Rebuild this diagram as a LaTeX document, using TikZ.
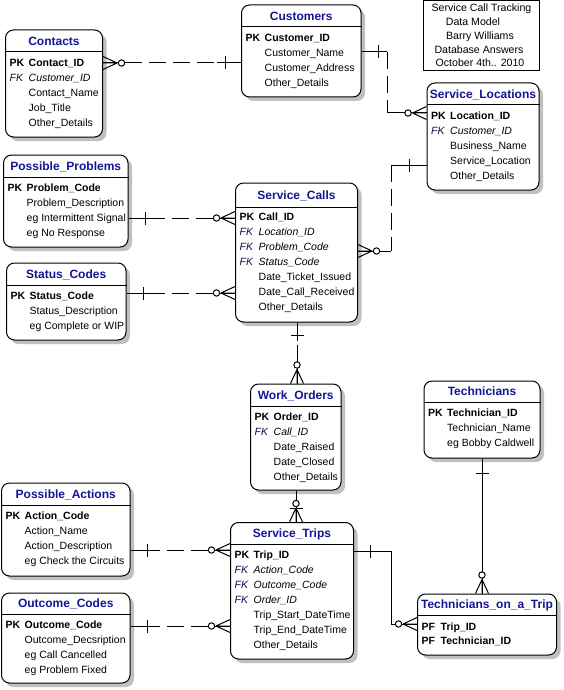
\documentclass[tikz,border=0pt]{standalone}
\usepackage{fontspec}
\setmainfont{Liberation Sans}
\usetikzlibrary{calc,shadows}
\definecolor{titleblue}{RGB}{20,20,150}
\definecolor{fkblue}{RGB}{15,15,75}
\definecolor{shadowgray}{RGB}{192,192,192}
\tikzset{
  entbox/.style={draw, line width=1pt, rounded corners=8pt, fill=white, inner sep=0pt,
    drop shadow={shadow xshift=4pt, shadow yshift=-4pt, fill=shadowgray, opacity=1}},
  enttitle/.style={font=\fontsize{12}{14}\selectfont\bfseries, text=titleblue, inner sep=0pt, text height=8.6pt, text depth=0pt},
  fldtxt/.style={font=\fontsize{10.5}{13}\selectfont, anchor=west, inner sep=0pt, text height=7.6pt, text depth=0pt},
  conn/.style={line width=1pt},
  dashpat/.style={line width=1pt, dash pattern=on 17pt off 7pt},
  legendbox/.style={draw, line width=1pt, inner sep=0pt},
  legtxt/.style={font=\fontsize{10.6}{13}\selectfont, inner sep=0pt, text height=7.6pt, text depth=0pt},
}
\newcommand{\entity}[7]{%
  \pgfmathsetmacro{\ew}{#4-#2}\pgfmathsetmacro{\eh}{#5-#3}%
  \pgfmathsetmacro{\ecx}{(#2+#4)/2}\pgfmathsetmacro{\ecy}{(#3+#5)/2}\pgfmathsetmacro{\ety}{(#3+#6)/2}%
  \node[entbox, minimum width=\ew pt, minimum height=\eh pt] (#1) at (\ecx,\ecy) {};
  \draw[conn] (#1.west |- 0,#6) -- (#1.east |- 0,#6);
  \node[enttitle] (#1-title) at (\ecx,\ety) {#7};
}
\newcommand{\pkf}[5]{\node[fldtxt] (#1) at (#2+4,#3) {\makebox[19pt][l]{\bfseries #4}\textbf{#5}};}
\newcommand{\fkf}[4]{\node[fldtxt] (#1) at (#2+4,#3) {\makebox[19pt][l]{\itshape\color{fkblue}FK}\textit{#4}};}
\newcommand{\atf}[4]{\node[fldtxt] (#1) at (#2+23,#3) {#4};}
% optional-many marker at an entity edge, pointing away along rotation
\newcommand{\manymark}[2]{%
  \begin{scope}[shift={(#1)}, rotate=#2]
    \draw[conn] (0,-6.5) -- (14,0) (0,0) -- (14,0) (0,6.5) -- (14,0);
    \draw[conn, fill=white] (18.5,0) circle[radius=3.2];
  \end{scope}}
\newcommand{\onemark}[3]{%
  \begin{scope}[shift={(#1)}, rotate=#2]
    \draw[conn] (#3,-6.5) -- (#3,6.5);
  \end{scope}}
% dashed relationship: many end #1, one end #2
\newcommand{\dashrel}[2]{%
  \draw[conn] (#1) -- ($(#1)!22pt!(#2)$);
  \draw[dashpat] ($(#1)!22pt!(#2)$) -- ($(#2)!24pt!(#1)$);
  \draw[conn] ($(#2)!24pt!(#1)$) -- (#2);}
\begin{document}
\begin{tikzpicture}[x=1pt,y=-1pt]
\useasboundingbox (0,0) rectangle (563,690);

% ---------- legend ----------
\node[legendbox, minimum width=116pt, minimum height=70pt] (legend) at (481,36) {};
\node[legtxt] (leg1) at (481.5,8) {Service Call Tracking};
\node[legtxt] (leg2) at (473,22) {Data Model};
\node[legtxt] (leg3) at (480,36) {Barry Williams};
\node[legtxt] (leg4) at (479,50) {Database Answers};
\node[legtxt] (leg5) at (480,63) {October 4th.. 2010};

% ---------- Contacts ----------
\entity{contacts}{5.5}{30}{102.5}{137}{52}{Contacts}
\pkf{contacts-1}{5.5}{63}{PK}{Contact\_ID}
\fkf{contacts-2}{5.5}{78}{Customer\_ID}
\atf{contacts-3}{5.5}{93}{Contact\_Name}
\atf{contacts-4}{5.5}{108}{Job\_Title}
\atf{contacts-5}{5.5}{123}{Other\_Details}

% ---------- Customers ----------
\entity{customers}{241.5}{5}{361}{97}{27}{Customers}
\pkf{customers-1}{241.5}{38}{PK}{Customer\_ID}
\atf{customers-2}{241.5}{53}{Customer\_Name}
\atf{customers-3}{241.5}{68}{Customer\_Address}
\atf{customers-4}{241.5}{83}{Other\_Details}

% ---------- Service_Locations ----------
\entity{servloc}{427}{83}{539}{190}{105}{Service\_Locations}
\pkf{servloc-1}{427}{116}{PK}{Location\_ID}
\fkf{servloc-2}{427}{131}{Customer\_ID}
\atf{servloc-3}{427}{146}{Business\_Name}
\atf{servloc-4}{427}{161}{Service\_Location}
\atf{servloc-5}{427}{176}{Other\_Details}

% ---------- Possible_Problems ----------
\entity{possprob}{3.5}{155}{128}{247}{177}{Possible\_Problems}
\pkf{possprob-1}{3.5}{188}{PK}{Problem\_Code}
\atf{possprob-2}{3.5}{203}{Problem\_Description}
\atf{possprob-3}{3.5}{218}{eg Intermittent Signal}
\atf{possprob-4}{3.5}{233}{eg No Response}

% ---------- Status_Codes ----------
\entity{statcodes}{6.5}{263}{126}{340}{285}{Status\_Codes}
\pkf{statcodes-1}{6.5}{296}{PK}{Status\_Code}
\atf{statcodes-2}{6.5}{311}{Status\_Description}
\atf{statcodes-3}{6.5}{326}{eg Complete or WIP}

% ---------- Service_Calls ----------
\entity{servcalls}{235.5}{183}{357.5}{322}{207}{Service\_Calls}
\pkf{servcalls-1}{235.5}{217}{PK}{Call\_ID}
\fkf{servcalls-2}{235.5}{232}{Location\_ID}
\fkf{servcalls-3}{235.5}{247}{Problem\_Code}
\fkf{servcalls-4}{235.5}{262}{Status\_Code}
\atf{servcalls-5}{235.5}{277}{Date\_Ticket\_Issued}
\atf{servcalls-6}{235.5}{292}{Date\_Call\_Received}
\atf{servcalls-7}{235.5}{307}{Other\_Details}

% ---------- Work_Orders ----------
\entity{workorders}{250.5}{384}{341}{490}{406}{Work\_Orders}
\pkf{workorders-1}{250.5}{417}{PK}{Order\_ID}
\fkf{workorders-2}{250.5}{432}{Call\_ID}
\atf{workorders-3}{250.5}{447}{Date\_Raised}
\atf{workorders-4}{250.5}{462}{Date\_Closed}
\atf{workorders-5}{250.5}{477}{Other\_Details}

% ---------- Technicians ----------
\entity{techs}{424}{381}{540}{458}{402}{Technicians}
\pkf{techs-1}{424}{413}{PK}{Technician\_ID}
\atf{techs-2}{424}{428}{Technician\_Name}
\atf{techs-3}{424}{443}{eg Bobby Caldwell}

% ---------- Possible_Actions ----------
\entity{possact}{1.5}{483}{130}{576}{505}{Possible\_Actions}
\pkf{possact-1}{1.5}{516}{PK}{Action\_Code}
\atf{possact-2}{1.5}{531}{Action\_Name}
\atf{possact-3}{1.5}{546}{Action\_Description}
\atf{possact-4}{1.5}{561}{eg Check the Circuits}

% ---------- Outcome_Codes ----------
\entity{outcodes}{1.5}{593}{130}{683}{614}{Outcome\_Codes}
\pkf{outcodes-1}{1.5}{625}{PK}{Outcome\_Code}
\atf{outcodes-2}{1.5}{640}{Outcome\_Decsription}
\atf{outcodes-3}{1.5}{655}{eg Call Cancelled}
\atf{outcodes-4}{1.5}{670}{eg Problem Fixed}

% ---------- Service_Trips ----------
\entity{servtrips}{230.5}{522.5}{353.5}{659}{544}{Service\_Trips}
\pkf{servtrips-1}{230.5}{555}{PK}{Trip\_ID}
\fkf{servtrips-2}{230.5}{570}{Action\_Code}
\fkf{servtrips-3}{230.5}{585}{Outcome\_Code}
\fkf{servtrips-4}{230.5}{600}{Order\_ID}
\atf{servtrips-5}{230.5}{615}{Trip\_Start\_DateTime}
\atf{servtrips-6}{230.5}{630}{Trip\_End\_DateTime}
\atf{servtrips-7}{230.5}{645}{Other\_Details}

% ---------- Technicians_on_a_Trip ----------
\entity{tont}{417.5}{594}{556.5}{655}{615}{Technicians\_on\_a\_Trip}
\pkf{tont-1}{417.5}{627}{PF}{Trip\_ID}
\pkf{tont-2}{417.5}{641}{PF}{Technician\_ID}

% ================= connectors =================
% Contacts -- Customers
\coordinate (c1a) at (contacts.east |- 0,63);
\coordinate (c1b) at (customers.west |- 0,63);
\dashrel{c1a}{c1b}
\manymark{c1a}{0}
\onemark{c1b}{180}{16}

% Customers -- Service_Locations
\coordinate (c2a) at (customers.east |- 0,52);
\coordinate (c2b) at (servloc.west |- 0,113);
\draw[conn] (c2a) -- (c2a -| 387,0);
\draw[dashpat] (c2a -| 387,0) -- (c2b -| 387,0);
\draw[conn] (c2b -| 387,0) -- (c2b);
\onemark{c2a}{0}{17}
\manymark{c2b}{180}

% Service_Calls -- Service_Locations
\coordinate (c3a) at (servcalls.east |- 0,251);
\coordinate (c3b) at (servloc.west |- 0,165);
\draw[conn] (c3a) -- (c3a -| 391,0);
\draw[dashpat] (c3b -| 391,0) -- (c3a -| 391,0);
\draw[conn] (c3b -| 391,0) -- (c3b);
\manymark{c3a}{0}
\onemark{c3b}{180}{17}

% Possible_Problems -- Service_Calls
\coordinate (c4a) at (possprob.east |- 0,218);
\coordinate (c4b) at (servcalls.west |- 0,218);
\dashrel{c4b}{c4a}
\manymark{c4b}{180}
\onemark{c4a}{0}{17}

% Status_Codes -- Service_Calls
\coordinate (c5a) at (statcodes.east |- 0,293);
\coordinate (c5b) at (servcalls.west |- 0,293);
\dashrel{c5b}{c5a}
\manymark{c5b}{180}
\onemark{c5a}{0}{17}

% Service_Calls -- Work_Orders
\coordinate (c6a) at (servcalls.south -| 297,0);
\coordinate (c6b) at (workorders.north -| 297,0);
\draw[conn] (c6a) -- ($(c6a)+(0,18)$);
\draw[conn] ($(c6b)+(0,-39)$) -- (c6b);
\onemark{c6a}{-90}{13}
\manymark{c6b}{90}

% Work_Orders -- Service_Trips
\coordinate (c7a) at (workorders.south -| 296,0);
\coordinate (c7b) at (servtrips.north -| 296,0);
\draw[conn] (c7a) -- (c7b);
\manymark{c7b}{90}
\onemark{c7b}{90}{14}

% Technicians -- Technicians_on_a_Trip
\coordinate (c8a) at (techs.south -| 482,0);
\coordinate (c8b) at (tont.north -| 482,0);
\draw[conn] (c8a) -- (c8b);
\onemark{c8a}{-90}{15}
\manymark{c8b}{90}

% Service_Trips -- Technicians_on_a_Trip
\coordinate (c9a) at (servtrips.east |- 0,551);
\coordinate (c9b) at (tont.west |- 0,624);
\draw[conn] (c9a) -- (c9a -| 391,0) |- (c9b);
\onemark{c9a}{0}{16}
\manymark{c9b}{180}

% Possible_Actions -- Service_Trips
\coordinate (c10a) at (possact.east |- 0,550);
\coordinate (c10b) at (servtrips.west |- 0,550);
\dashrel{c10b}{c10a}
\manymark{c10b}{180}
\onemark{c10a}{0}{17}

% Outcome_Codes -- Service_Trips
\coordinate (c11a) at (outcodes.east |- 0,626);
\coordinate (c11b) at (servtrips.west |- 0,626);
\dashrel{c11b}{c11a}
\manymark{c11b}{180}
\onemark{c11a}{0}{17}
\end{tikzpicture}
\end{document}
